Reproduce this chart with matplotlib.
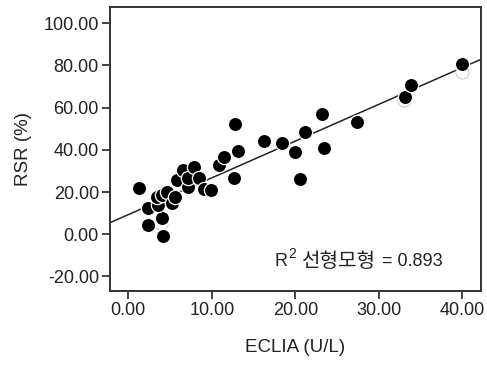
import matplotlib
matplotlib.use("Agg")
import matplotlib.pyplot as plt
import numpy as np
from matplotlib.ticker import FormatStrFormatter

# ECLIA (U/L) vs RSR (%) scatter values
eclia = [1.3, 2.4, 2.3, 4.2, 4.0, 3.6, 3.4, 4.0, 4.6, 5.2, 5.6, 5.8, 6.6, 7.2,
         7.1, 7.9, 8.5, 9.1, 9.9, 10.8, 11.4, 13.1, 12.6, 12.8, 16.3, 18.4,
         20.0, 20.6, 21.2, 23.2, 23.4, 27.4, 33.1, 33.9, 40.0]
rsr = [22.1, 12.3, 4.4, -1.0, 7.6, 13.9, 17.8, 18.6, 20.2, 14.7, 17.8, 25.7,
       30.5, 22.5, 26.5, 31.7, 26.5, 21.3, 21.0, 32.8, 36.8, 39.6, 26.5, 52.3,
       44.3, 43.4, 39.1, 26.2, 48.3, 56.8, 40.7, 53.3, 65.2, 70.7, 80.7]
# faint ghost markers behind some points
ghost_x = [33.0, 40.0, 3.9]
ghost_y = [63.6, 77.0, 5.5]

# fitted line as shown (intercept, slope)
fit_intercept = 9.3
fit_slope = 1.742
r2_parts = ("R", "2", "선형모형", "= 0.893")

xticks = [0, 10, 20, 30, 40]
yticks = [-20, 0, 20, 40, 60, 80, 100]

fam = ["Liberation Sans", "Noto Sans CJK KR", "DejaVu Sans"]
plt.rcParams["font.family"] = fam

fig = plt.figure(figsize=(4.87, 3.75), dpi=100)
ax = fig.add_axes([110 / 487, 84 / 375, 371 / 487, 284 / 375])

xlim = (-2.2, 42.25)
ax.set_xlim(*xlim)
ax.set_ylim(-26.9, 107.7)

xs = np.array(xlim)
ax.plot(xs, fit_intercept + fit_slope * xs, color="#222222", linewidth=1.1,
        zorder=2)

ax.scatter(ghost_x, ghost_y, s=90, facecolor="white", edgecolor="#c8c8c8",
           linewidth=0.7, zorder=2.5)
ax.scatter(eclia, rsr, s=105, facecolor="black", edgecolor="white",
           linewidth=0.9, zorder=3)

ax.set_xticks(xticks)
ax.set_yticks(yticks)
ax.xaxis.set_major_formatter(FormatStrFormatter("%.2f"))
ax.yaxis.set_major_formatter(FormatStrFormatter("%.2f"))
ax.tick_params(direction="out", length=6, width=1.2, labelsize=13,
               colors="#222222", pad=2, top=False, right=False)
for sp in ax.spines.values():
    sp.set_linewidth(1.4)
    sp.set_color("#333333")

ax.set_xlabel("ECLIA (U/L)", fontsize=13.5, color="#222222", labelpad=14)
ax.set_ylabel("RSR (%)", fontsize=13.5, color="#222222", labelpad=8)

# R^2 label, built from pieces so the superscript stays in the text font
txt = dict(ha="left", va="center", color="#222222", family=fam)
ymid = 1 - 261 / 375
fig.text(275 / 487, ymid, r2_parts[0], fontsize=13, **txt)
fig.text(288 / 487, 1 - 254 / 375, r2_parts[1], fontsize=10, **txt)
fig.text(301 / 487, ymid - 0.002, r2_parts[2], fontsize=14.5, **txt)
fig.text(382 / 487, ymid, r2_parts[3], fontsize=13, **txt)

fig.savefig("out.png", dpi=100)
